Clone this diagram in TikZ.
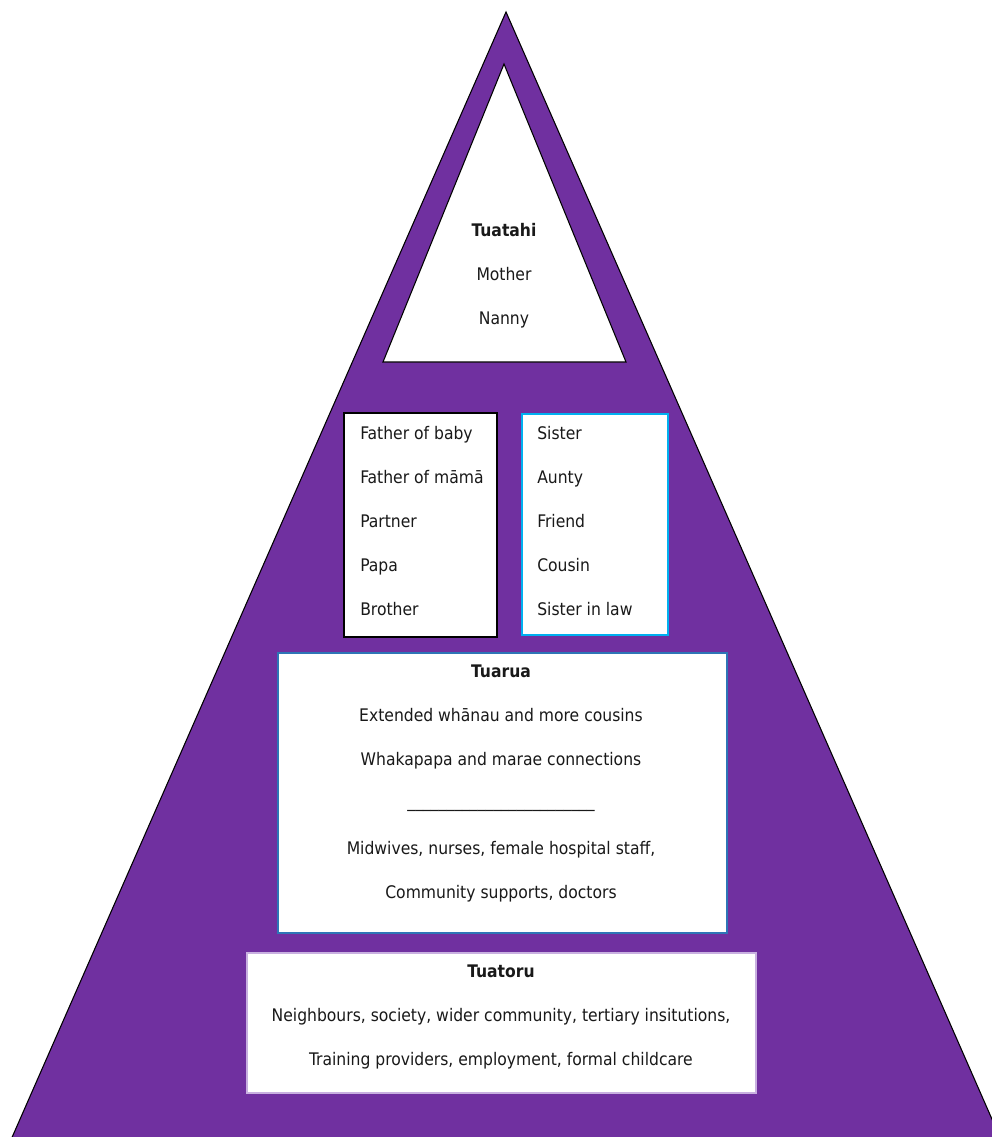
\documentclass[tikz,border=0pt]{standalone}
\usepackage{fontspec}
\setmainfont{DejaVu Sans Condensed}
\definecolor{tierpurple}{HTML}{7030A0}
\definecolor{tiercyan}{HTML}{00B0F0}
\definecolor{tierblue}{HTML}{2E75B6}
\definecolor{tierlilac}{HTML}{C8B0E0}
\begin{document}
\begin{tikzpicture}[x=0.75pt,y=-0.75pt,
	tier/.style={fill=white,line width=0.8pt},
	entry/.style={font=\fontsize{13}{15}\selectfont,inner sep=0pt,text=black!90}]
	\def\gap{44};
	\useasboundingbox (0,0) rectangle (991,1137);

	% PYRAMID
	\draw[fill=tierpurple,line width=0.8pt] (506,12) -- (1002,1142) -- (10,1142) -- cycle;

	% TUATAHI
	\draw[tier] (504,64) -- (626,362) -- (383,362) -- cycle;
	\node[entry,anchor=base] (tuatahi) at (504,237) {\textbf{Tuatahi}};
	\node[entry,anchor=base] (mother) at (504,237+\gap) {Mother};
	\node[entry,anchor=base] (nanny) at (504,237+2*\gap) {Nanny};

	% FATHERS AND SISTERS
	\draw[tier,draw=black] (344,413) rectangle (497,637);
	\foreach \t [count=\i from 0] in {Father of baby,Father of māmā,Partner,Papa,Brother}
		\node[entry,anchor=base west] (father\i) at (360,{439+\gap*\i}) {\t};
	\draw[tier,draw=tiercyan] (522,414) rectangle (668,635);
	\foreach \t [count=\i from 0] in {Sister,Aunty,Friend,Cousin,Sister in law}
		\node[entry,anchor=base west] (sister\i) at (537,{439+\gap*\i}) {\t};

	% TUARUA
	\draw[tier,draw=tierblue] (278,653) rectangle (727,933);
	\node[entry,anchor=base] (tuarua) at (501,677) {\textbf{Tuarua}};
	\node[entry,anchor=base] (whanau) at (501,677+\gap) {Extended whānau and more cousins};
	\node[entry,anchor=base] (marae) at (501,677+2*\gap) {Whakapapa and marae connections};
	\node[entry,anchor=base] (rule) at (501,807) {\_\_\_\_\_\_\_\_\_\_\_\_\_\_\_\_\_\_\_\_\_\_\_\_};
	\node[entry,anchor=base] (midwives) at (501,854) {Midwives, nurses, female hospital staff,};
	\node[entry,anchor=base] (supports) at (501,854+\gap) {Community supports, doctors};

	% TUATORU
	\draw[tier,draw=tierlilac] (247,953) rectangle (756,1093);
	\node[entry,anchor=base] (tuatoru) at (501,977) {\textbf{Tuatoru}};
	\node[entry,anchor=base] (society) at (501,977+\gap) {Neighbours, society, wider community, tertiary insitutions,};
	\node[entry,anchor=base] (training) at (501,977+2*\gap) {Training providers, employment, formal childcare};
\end{tikzpicture}
\end{document}
